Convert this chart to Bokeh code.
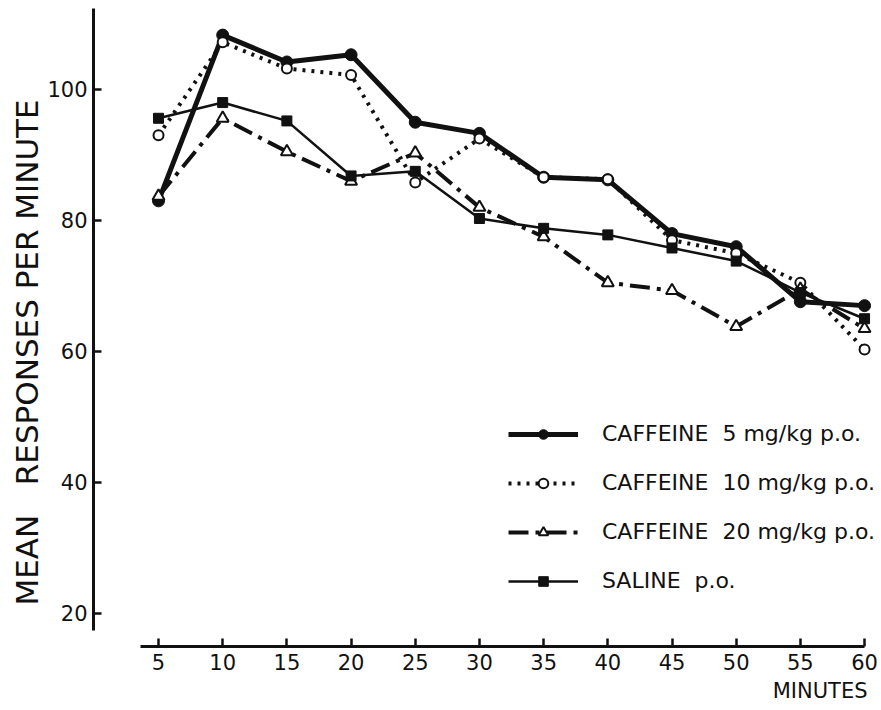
from bokeh.plotting import figure
from bokeh.models import Range1d, FixedTicker, Legend, LegendItem, Title
from bokeh.embed import file_html
from bokeh.resources import INLINE

minutes = [5, 10, 15, 20, 25, 30, 35, 40, 45, 50, 55, 60]
caffeine_5 = [83.0, 108.3, 104.2, 105.3, 95.0, 93.3, 86.6, 86.2, 78.0, 76.0, 67.6, 67.0]
caffeine_10 = [93.0, 107.2, 103.2, 102.2, 85.8, 92.5, 86.6, 86.3, 77.0, 75.0, 70.5, 60.3]
caffeine_20 = [83.7, 95.6, 90.5, 86.0, 90.3, 82.0, 77.5, 70.5, 69.3, 63.8, 69.5, 63.5]
saline = [95.6, 98.0, 95.2, 86.8, 87.5, 80.3, 78.8, 77.8, 75.8, 73.8, 69.0, 65.0]

x_ticks = [5, 10, 15, 20, 25, 30, 35, 40, 45, 50, 55, 60]
y_ticks = [20, 40, 60, 80, 100]
NB = "\u00a0"
labels = ["CAFFEINE" + NB * 2 + "5 mg/kg p.o.",
          "CAFFEINE" + NB * 2 + "10 mg/kg p.o.",
          "CAFFEINE" + NB * 2 + "20 mg/kg p.o.",
          "SALINE" + NB * 2 + "p.o."]
x_title = "MINUTES"
y_title = "MEAN" + NB * 3 + "RESPONSES" + NB + "PER" + NB + "MINUTE"

FONT = "DejaVu Sans"
INK = "#111111"

p = figure(width=881, height=710, output_backend="svg", toolbar_location=None,
           x_range=Range1d(-0.064, 60.93), y_range=Range1d(14.96, 112.82),
           min_border_left=93, min_border_right=5, min_border_top=5,
           min_border_bottom=64)
p.outline_line_color = None
p.xgrid.visible = False
p.ygrid.visible = False
p.background_fill_color = "white"
p.border_fill_color = "white"

for ax in (p.xaxis[0], p.yaxis[0]):
    ax.axis_line_width = 3
    ax.axis_line_color = INK
    ax.major_tick_line_width = 2.5
    ax.major_tick_line_color = INK
    ax.minor_tick_line_color = None
    ax.major_tick_out = 0
    ax.major_tick_in = 8
    ax.major_label_text_font = FONT
    ax.major_label_text_font_size = "21px"
    ax.major_label_text_color = INK

p.xaxis.ticker = FixedTicker(ticks=x_ticks)
p.yaxis.ticker = FixedTicker(ticks=y_ticks)
p.xaxis.bounds = (3.6, 60)
p.yaxis.bounds = (17.4, 112.4)
p.xaxis.major_label_standoff = 7
p.yaxis.major_label_standoff = 6

r5l = p.line(minutes, caffeine_5, line_width=5, line_color=INK)
r5m = p.scatter(minutes, caffeine_5, marker="circle", size=12, fill_color=INK,
                line_color=INK)
r10l = p.line(minutes, caffeine_10, line_width=4, line_color=INK,
              line_dash="3 6")
r10m = p.scatter(minutes, caffeine_10, marker="circle", size=10,
                 fill_color="white", line_color=INK, line_width=2)
r20l = p.line(minutes, caffeine_20, line_width=4, line_color=INK,
              line_dash="20 7 4 7")
r20m = p.scatter(minutes, caffeine_20, marker="triangle", size=12,
                 fill_color="white", line_color=INK, line_width=2)
rsl = p.line(minutes, saline, line_width=2.5, line_color=INK)
rsm = p.scatter(minutes, saline, marker="square", size=10, fill_color=INK,
                line_color=INK)

legend = Legend(items=[
    LegendItem(label=labels[0], renderers=[r5l, r5m]),
    LegendItem(label=labels[1], renderers=[r10l, r10m]),
    LegendItem(label=labels[2], renderers=[r20l, r20m]),
    LegendItem(label=labels[3], renderers=[rsl, rsm]),
], location=(415, 53))
legend.border_line_color = None
legend.background_fill_alpha = 0
legend.padding = 0
legend.margin = 0
legend.spacing = 24
legend.label_height = 24
legend.glyph_height = 24
legend.glyph_width = 70
legend.label_standoff = 24
legend.label_text_font = FONT
legend.label_text_font_size = "22px"
legend.label_text_color = INK
p.add_layout(legend)

xt = Title(text=x_title, align="right", offset=9, text_font=FONT,
           text_font_size="21px", text_font_style="normal", text_color=INK,
           standoff=9)
p.add_layout(xt, "below")
yt = Title(text=y_title, align="left", offset=41, text_font=FONT,
           text_font_size="31px", text_font_style="normal", text_color=INK,
           standoff=0)
p.add_layout(yt, "left")

open("out.html", "w").write(file_html(p, INLINE))
